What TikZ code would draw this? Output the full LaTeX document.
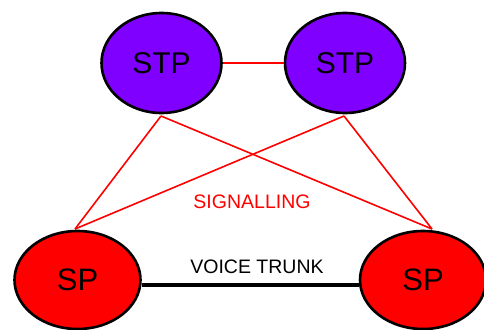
\documentclass[tikz,border=0pt]{standalone}
\usepackage{fontspec}
\setmainfont{Liberation Sans}
\usetikzlibrary{shapes.geometric}
\definecolor{stpviolet}{RGB}{127,0,255}
\definecolor{spred}{RGB}{255,0,0}
\tikzset{
  stpnode/.style={ellipse, draw=black, line width=2.6pt, fill=stpviolet,
    minimum width=120pt, minimum height=100pt, inner sep=0pt,
    font=\fontsize{30}{30}\selectfont},
  spnode/.style={ellipse, draw=black, line width=2.6pt, fill=spred,
    minimum width=126pt, minimum height=98pt, inner sep=0pt,
    font=\fontsize{31}{31}\selectfont},
  sigline/.style={draw=spred, line width=1.6pt},
  trunkline/.style={draw=black, line width=3.6pt},
  lbl/.style={font=\fontsize{19.5}{20}\selectfont, inner sep=0pt}
}
\begin{document}
\begin{tikzpicture}[x=1pt,y=-1pt]
  \useasboundingbox[fill=white] (0,0) rectangle (484,329);
  % signalling links (behind the nodes)
  \coordinate (s1b) at (161,116);
  \coordinate (s2b) at (344,116);
  \coordinate (p1t) at (75,229);
  \coordinate (p2t) at (432,229);
  \draw[sigline] (s1b) -- (p1t);
  \draw[sigline] (s1b) -- (p2t);
  \draw[sigline] (s2b) -- (p1t);
  \draw[sigline] (s2b) -- (p2t);
  % nodes
  \node[stpnode] (stpa) at (161.5,63) {STP};
  \node[stpnode] (stpb) at (345,63) {STP};
  \node[spnode] (spa) at (77.5,280) {SP};
  \node[spnode] (spb) at (423,280) {SP};
  % links between peers
  \draw[sigline, line width=2.2pt] (stpa) -- (stpb);
  \draw[trunkline] (spa.east |- 0,285) -- (spb.west |- 0,285);
  % labels
  \node[lbl, text=spred] (sig) at (252,202) {SIGNALLING};
  \node[lbl] (vt) at (257,267) {VOICE TRUNK};
\end{tikzpicture}
\end{document}
